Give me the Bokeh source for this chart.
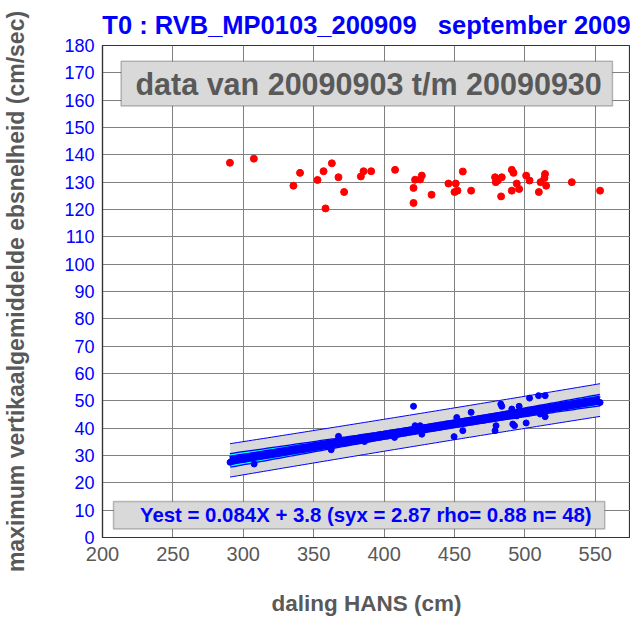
import numpy as np
from bokeh.plotting import figure
from bokeh.models import FixedTicker, BoxAnnotation, Label, ColumnDataSource
from bokeh.embed import file_html
from bokeh.resources import INLINE

# ---- data ----
title_text = "T0 : RVB_MP0103_200909\u00a0\u00a0 september 2009"
period_text = "data van 20090903 t/m 20090930"
x_label = "daling HANS (cm)"
y_label = "maximum vertikaalgemiddelde ebsnelheid (cm/sec)"

x_ticks = [200, 250, 300, 350, 400, 450, 500, 550]
y_ticks = list(range(0, 181, 10))

# upper series (red)
hans_red = [290.5, 307.5, 335.6, 340.3, 352.7, 357.0, 362.9, 367.6, 371.6, 358.4,
            383.5, 385.4, 390.8, 407.8, 420.9, 422.0, 426.8, 425.6, 420.9, 433.7,
            445.7, 450.9, 450.0, 452.1, 455.9, 461.8, 478.8, 479.3, 483.6, 480.7,
            483.1, 490.7, 491.9, 494.2, 490.7, 495.9, 500.9, 503.3, 509.9, 511.1,
            514.3, 513.9, 515.1, 533.3, 553.4]
vel_red = [137.1, 138.6, 128.7, 133.4, 130.8, 134.0, 136.9, 131.8, 126.4, 120.4,
           132.1, 134.0, 134.0, 134.5, 127.9, 130.9, 132.4, 131.0, 122.4, 125.4,
           129.5, 129.5, 126.4, 126.9, 133.9, 126.9, 131.8, 130.0, 131.8, 130.6,
           124.8, 134.5, 133.4, 129.5, 126.9, 127.5, 132.4, 130.6, 126.4, 130.0,
           133.0, 131.5, 128.7, 130.0, 126.9]

# lower series (blue), used for the regression
hans_blue = [290.6, 292.5, 307.7, 335.0, 342.0, 350.0, 356.0, 362.4, 367.6, 372.0,
             378.0, 386.1, 392.0, 398.0, 407.4, 414.0, 420.9, 422.0, 425.6, 426.8,
             432.0, 440.0, 449.7, 451.6, 455.9, 461.8, 466.0, 470.0, 478.8, 479.5,
             482.9, 483.6, 490.7, 491.4, 492.6, 494.2, 495.9, 500.9, 503.3, 505.0,
             509.7, 510.8, 514.4, 514.4, 522.0, 548.0, 553.4, 551.0]
vel_blue = [27.5, 28.4, 26.9, 31.9, 32.5, 33.6, 33.8, 32.1, 37.0, 35.3,
            35.6, 35.1, 36.9, 37.3, 36.6, 38.6, 48.0, 40.9, 40.9, 37.8,
            40.1, 40.8, 36.9, 43.9, 39.1, 45.8, 42.7, 43.3, 39.1, 40.9,
            48.8, 48.0, 47.0, 41.5, 40.9, 44.5, 48.0, 41.9, 51.0, 46.4,
            51.9, 45.2, 51.9, 44.2, 47.5, 49.9, 49.4, 50.0]

slope = 0.084
intercept = 3.8
syx = 2.87
rho = 0.88
t_val = 2.01

eq_text = "Yest = %.3fX + %.1f (syx = %.2f rho= %.2f n= %d)" % (slope, intercept, syx, rho, len(hans_blue))

# ---- regression bands ----
xb = np.array(hans_blue)
n = len(xb)
xm = xb.mean()
sxx = ((xb - xm) ** 2).sum()
xs = np.linspace(xb.min(), xb.max(), 100)
yfit = slope * xs + intercept
conf = t_val * syx * np.sqrt(1.0 / n + (xs - xm) ** 2 / sxx)
pred = t_val * syx * np.sqrt(1.0 + 1.0 / n + (xs - xm) ** 2 / sxx)
band = ColumnDataSource(dict(x=xs, y=yfit, cl=yfit - conf, cu=yfit + conf,
                             pl=yfit - pred, pu=yfit + pred))

# ---- figure ----
p = figure(frame_width=528, frame_height=492, x_range=(200, 575), y_range=(0, 180),
           output_backend="svg", toolbar_location=None,
           min_border_left=101, min_border_right=0, min_border_top=45, min_border_bottom=82)
p.background_fill_color = "white"
p.border_fill_color = "white"
p.outline_line_color = "#333333"
p.outline_line_width = 1.2

p.title.text = title_text
p.title.align = "center"
p.title.text_color = "#0000ff"
p.title.text_font = "Liberation Sans"
p.title.text_font_size = "25.5px"
p.title.text_font_style = "bold"
p.title.standoff = 14

p.xaxis.ticker = FixedTicker(ticks=x_ticks)
p.yaxis.ticker = FixedTicker(ticks=y_ticks)
for ax in (p.xaxis, p.yaxis):
    ax.major_tick_in = 0
    ax.major_tick_out = 0
    ax.minor_tick_in = 0
    ax.minor_tick_out = 0
    ax.axis_line_color = "#333333"
    ax.axis_line_width = 1.2
    ax.major_label_text_font = "Liberation Sans"
    ax.axis_label_text_font = "Liberation Sans"
    ax.axis_label_text_font_style = "bold"
    ax.axis_label_text_color = "#595959"

p.xaxis.axis_label = x_label
p.xaxis.axis_label_text_font_size = "22.5px"
p.xaxis.major_label_text_color = "#595959"
p.xaxis.major_label_text_font_size = "20px"
p.xaxis.major_label_standoff = 9
p.xaxis.axis_label_standoff = 27

p.yaxis.axis_label = y_label
p.yaxis.axis_label_text_font_size = "23px"
p.yaxis.major_label_text_color = "#0000ff"
p.yaxis.major_label_text_font_size = "18px"
p.yaxis.major_label_standoff = 8
p.yaxis.axis_label_standoff = 32

p.grid.grid_line_color = "#808080"
p.grid.grid_line_width = 1
p.grid.grid_line_alpha = 1

# prediction band
p.varea(x="x", y1="pl", y2="pu", source=band, fill_color="#d9d9d9")
p.line(x="x", y="pl", source=band, line_color="#0000ff", line_width=1)
p.line(x="x", y="pu", source=band, line_color="#0000ff", line_width=1)
# confidence lines
p.line(x="x", y="cl", source=band, line_color="#0000ff", line_width=4)
p.line(x="x", y="cu", source=band, line_color="#0000ff", line_width=4)
p.line(x="x", y="cl", source=band, line_color="#00ffff", line_width=1.5)
p.line(x="x", y="cu", source=band, line_color="#00ffff", line_width=1.5)
# regression line
p.line(x="x", y="y", source=band, line_color="#0000ff", line_width=9)

# points
p.scatter(hans_blue, vel_blue, size=6, color="#0000ff")
p.scatter(hans_red, vel_red, size=7, color="#ff0000")

# annotation boxes
p.add_layout(BoxAnnotation(left=213.2, right=562.2, bottom=157.9, top=174.2,
                           fill_color="#d9d9d9", fill_alpha=1,
                           line_color="#333333", line_width=1.5, level="overlay"))
p.add_layout(Label(x=389, y=166, text=period_text, text_align="center",
                   text_baseline="middle", text_font="Liberation Sans",
                   text_font_size="30.5px", text_font_style="bold",
                   text_color="#595959", level="overlay"))
p.add_layout(BoxAnnotation(left=207.8, right=556.7, bottom=3.1, top=13.2,
                           fill_color="#d9d9d9", fill_alpha=1,
                           line_color="#333333", line_width=1.5, level="overlay"))
p.add_layout(Label(x=387, y=8.1, text=eq_text, text_align="center",
                   text_baseline="middle", text_font="Liberation Sans",
                   text_font_size="20.4px", text_font_style="bold",
                   text_color="#0000ff", level="overlay"))

open("out.html", "w").write(file_html(p, INLINE))
